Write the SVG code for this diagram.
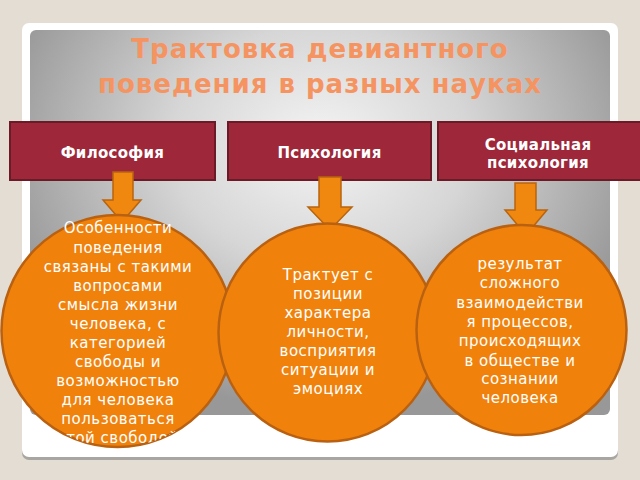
<svg xmlns="http://www.w3.org/2000/svg" width="640" height="480" viewBox="0 0 640 480">
<style>
.hdr{fill:#9e2739;stroke:#6b1a27;stroke-width:2}
.hdrt{font-family:"DejaVu Sans",sans-serif;font-weight:bold;font-size:15px;letter-spacing:0.3px;fill:#ffffff;text-anchor:middle}
.arr{fill:#f0870e;stroke:#b8640f;stroke-width:1.5;stroke-linejoin:miter}
.circ{fill:#f0820c;stroke:#b96110;stroke-width:2.5}
.ct{font-family:"DejaVu Sans",sans-serif;font-size:15px;letter-spacing:0.5px;fill:#ffffff;text-anchor:middle}
.title{font-family:"DejaVu Sans",sans-serif;font-weight:bold;font-size:26px;letter-spacing:1px;fill:#f59461;text-anchor:middle}
</style>
<defs>
<radialGradient id="pg" cx="320" cy="145" r="330" gradientUnits="userSpaceOnUse" gradientTransform="translate(320 145) scale(1 0.8) translate(-320 -145)">
<stop offset="0" stop-color="#f4f4f4"/>
<stop offset="0.45" stop-color="#d6d6d6"/>
<stop offset="1" stop-color="#989898"/>
</radialGradient>
<clipPath id="c1clip">
<circle cx="117.5" cy="331" r="116"/>
<rect x="0" y="200" width="240" height="140"/>
</clipPath>
</defs>
<rect x="0" y="0" width="640" height="480" fill="#e4ddd3"/>
<rect x="22" y="26" width="596" height="434" rx="7" fill="#a9a6a1"/>
<rect x="22" y="23" width="596" height="434" rx="7" fill="#ffffff"/>
<rect x="30" y="30" width="580" height="385" rx="6" fill="url(#pg)"/>
<text class="title" x="320" y="58">Трактовка девиантного</text>
<text class="title" x="320" y="93">поведения в разных науках</text>

<g id="node-philosophy">
<rect class="hdr" x="10" y="122" width="205" height="58"/>
<text class="hdrt" x="112.5" y="158">Философия</text>
</g>
<g id="node-psychology">
<rect class="hdr" x="228" y="122" width="203" height="58"/>
<text class="hdrt" x="329.5" y="158">Психология</text>
</g>
<g id="node-social">
<rect class="hdr" x="438" y="122" width="210" height="58"/>
<text class="hdrt" x="538" y="150">Социальная</text>
<text class="hdrt" x="538" y="168">психология</text>
</g>

<g id="connectors">
<path class="arr" d="M113,172 H133 V200 H141 L122,222 L103,200 H113 Z"/>
<path class="arr" d="M319,177 H341 V207 H352 L330,230 L308,207 H319 Z"/>
<path class="arr" d="M515,183 H536 V210 H547 L526,235 L505,210 H515 Z"/>
</g>

<g id="node-c1">
<circle class="circ" cx="117.5" cy="331" r="116"/>
</g>
<g id="node-c2">
<circle class="circ" cx="327.5" cy="332.5" r="109"/>
</g>
<g id="node-c3">
<circle class="circ" cx="521.5" cy="330" r="105"/>
</g>

<g id="node-c1-text" clip-path="url(#c1clip)">
<text class="ct" x="118" y="233">Особенности</text>
<text class="ct" x="118" y="253">поведения</text>
<text class="ct" x="118" y="272">связаны с такими</text>
<text class="ct" x="118" y="291">вопросами</text>
<text class="ct" x="118" y="310">смысла жизни</text>
<text class="ct" x="118" y="329">человека, с</text>
<text class="ct" x="118" y="348">категорией</text>
<text class="ct" x="118" y="367">свободы и</text>
<text class="ct" x="118" y="386">возможностью</text>
<text class="ct" x="118" y="405">для человека</text>
<text class="ct" x="118" y="424">пользоваться</text>
<text class="ct" x="118" y="443">этой свободой</text>
</g>
<g id="node-c2-text">
<text class="ct" x="328" y="280">Трактует с</text>
<text class="ct" x="328" y="299">позиции</text>
<text class="ct" x="328" y="318">характера</text>
<text class="ct" x="328" y="337">личности,</text>
<text class="ct" x="328" y="356">восприятия</text>
<text class="ct" x="328" y="375">ситуации и</text>
<text class="ct" x="328" y="394">эмоциях</text>
</g>
<g id="node-c3-text">
<text class="ct" x="520" y="269">результат</text>
<text class="ct" x="520" y="288">сложного</text>
<text class="ct" x="520" y="308">взаимодействи</text>
<text class="ct" x="520" y="327">я процессов,</text>
<text class="ct" x="520" y="346">происходящих</text>
<text class="ct" x="520" y="366">в обществе и</text>
<text class="ct" x="520" y="384">сознании</text>
<text class="ct" x="520" y="403">человека</text>
</g>
</svg>
